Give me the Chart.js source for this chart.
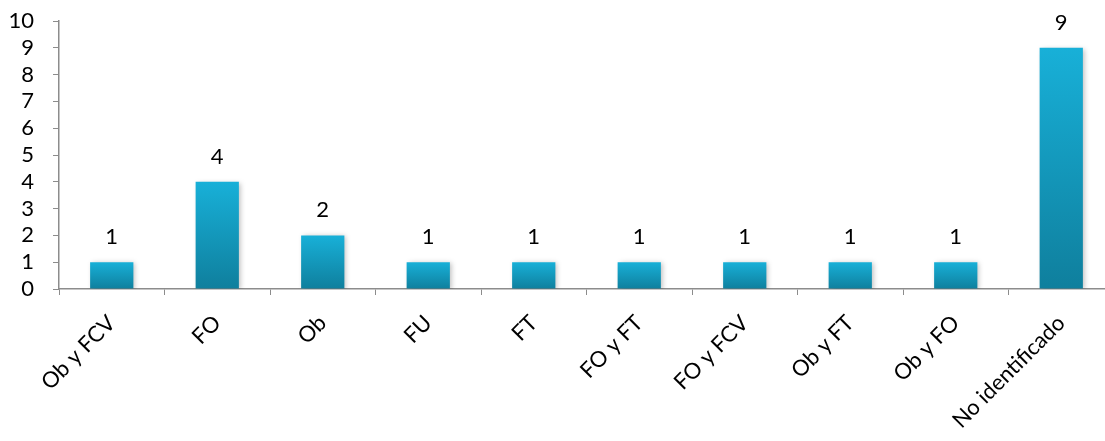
<!DOCTYPE html>
<html>
<head>
<meta charset="utf-8">
<script src="https://cdn.jsdelivr.net/npm/chart.js@4"></script>
<style>
  html, body { margin: 0; padding: 0; background: #fff; overflow: hidden; }
  #wrap { width: 1114px; height: 441px; }
</style>
</head>
<body>
<div id="wrap"><canvas id="chart"></canvas></div>
<script>
const categories = ['Ob y FCV', 'FO', 'Ob', 'FU', 'FT', 'FO y FT', 'FO y FCV', 'Ob y FT', 'Ob y FO', 'No identificado'];
const counts = [1, 4, 2, 1, 1, 1, 1, 1, 1, 9];
const yTicks = [0, 1, 2, 3, 4, 5, 6, 7, 8, 9, 10];

const FONT = 'Lato, "Open Sans", sans-serif';
const axisColor = '#8c8c8c';

// degradado vertical de cada barra, de su tope a la base
function barFill(context) {
  const chart = context.chart;
  const area = chart.chartArea;
  if (!area || context.type !== 'data') return '#15a0c4';
  const yScale = chart.scales.y;
  const top = yScale.getPixelForValue(counts[context.dataIndex]);
  const bottom = yScale.getPixelForValue(0);
  const g = chart.ctx.createLinearGradient(0, top, 0, bottom);
  g.addColorStop(0, '#18b0d8');
  g.addColorStop(1, '#0f7f9d');
  return g;
}

// números encima de las barras
const valueLabels = {
  id: 'valueLabels',
  afterDatasetsDraw(chart) {
    const ctx = chart.ctx;
    const meta = chart.getDatasetMeta(0);
    ctx.save();
    ctx.font = '22px ' + FONT;
    ctx.fillStyle = '#000';
    ctx.textAlign = 'center';
    ctx.textBaseline = 'alphabetic';
    meta.data.forEach((bar, i) => {
      ctx.fillText(String(counts[i]), bar.x, bar.y - 18);
    });
    ctx.restore();
  }
};

// sombra suave a la derecha de las barras
const barShadow = {
  id: 'barShadow',
  beforeDatasetsDraw(chart) {
    chart.ctx.save();
    chart.ctx.shadowColor = 'rgba(0,0,0,0.25)';
    chart.ctx.shadowBlur = 5;
    chart.ctx.shadowOffsetX = 2;
    chart.ctx.shadowOffsetY = 1;
  },
  afterDatasetsDraw(chart) {
    chart.ctx.restore();
  }
};

new Chart(document.getElementById('chart'), {
  type: 'bar',
  data: {
    labels: categories,
    datasets: [{
      data: counts,
      backgroundColor: barFill,
      borderWidth: 0,
      barPercentage: 0.41,
      categoryPercentage: 1
    }]
  },
  options: {
    responsive: true,
    maintainAspectRatio: false,
    animation: false,
    layout: { padding: { top: 21, right: 0, left: 0, bottom: 0 } },
    plugins: {
      legend: { display: false },
      tooltip: { enabled: false }
    },
    scales: {
      x: {
        grid: {
          drawOnChartArea: false,
          drawTicks: true,
          tickLength: 6,
          color: axisColor,
          offset: true
        },
        border: { color: axisColor, width: 1.5 },
        ticks: {
          color: '#000',
          font: { family: FONT, size: 22 },
          minRotation: 45,
          maxRotation: 45,
          autoSkip: false,
          padding: 15
        },
        afterFit(scale) { scale.height = 152; }
      },
      y: {
        min: 0,
        max: 10,
        afterBuildTicks(scale) { scale.ticks = yTicks.map(v => ({ value: v })); },
        grid: {
          drawOnChartArea: false,
          tickLength: 6,
          color: axisColor
        },
        border: { color: axisColor, width: 1.5 },
        ticks: {
          color: '#000',
          font: { family: FONT, size: 22 },
          autoSkip: false,
          padding: 19
        },
        afterFit(scale) {
          scale.width = 59;
          scale.paddingTop = 0;
          scale.paddingBottom = 0;
        }
      }
    }
  },
  plugins: [barShadow, valueLabels]
});
</script>
</body>
</html>
